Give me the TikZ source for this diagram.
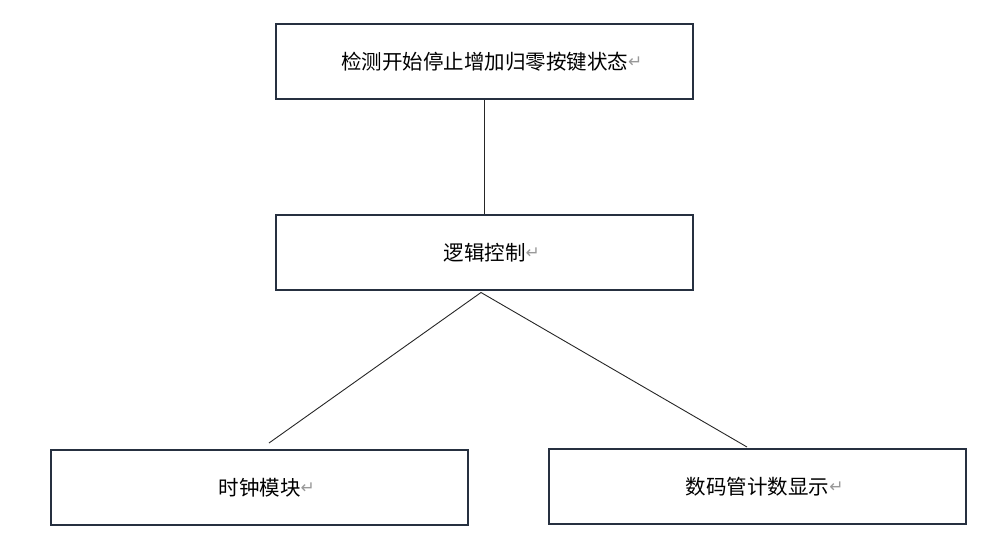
\documentclass[tikz,border=0pt]{standalone}
\usepackage{fontspec}
\usetikzlibrary{positioning}
\newfontfamily\cjk{Noto Sans CJK SC}
\newfontfamily\symfont{DejaVu Sans}
\definecolor{boxline}{HTML}{263040}
\newcommand{\parmark}{\rlap{\raisebox{1.5pt}{\symfont\fontsize{17}{17}\selectfont\color{black!40}↵}}}

\begin{document}
\begin{tikzpicture}[
    x=1pt, y=1pt,
    block/.style={rectangle, draw=boxline, line width=2pt, minimum width=417pt,
                  minimum height=75pt, font=\cjk\fontsize{20.5}{24}\selectfont},
    link/.style={draw=black!85, line width=0.9pt}
]
\useasboundingbox (0,0) rectangle (996,-549);

\node[block] (detect) at (484.5,-61.5) {检测开始停止增加归零按键状态\parmark};
\node[block] (logic) [below=114pt of detect] {逻辑控制\parmark};
\node[block] (clock) [below=158pt of logic, xshift=-225pt] {时钟模块\parmark};
\node[block] (display) [below=157pt of logic, xshift=273pt] {数码管计数显示\parmark};

% free ends of the two lower lines
\coordinate (apex) at ([xshift=-3.5pt, yshift=-1.5pt]logic.south);
\coordinate (clockend) at ([xshift=9.5pt, yshift=6pt]clock.north);
\coordinate (displayend) at ([xshift=-10.5pt, yshift=1pt]display.north);

\path[link] (detect.south) -- (logic.north);
\path[link] (apex) -- (clockend);
\path[link] (apex) -- (displayend);

\end{tikzpicture}
\end{document}
